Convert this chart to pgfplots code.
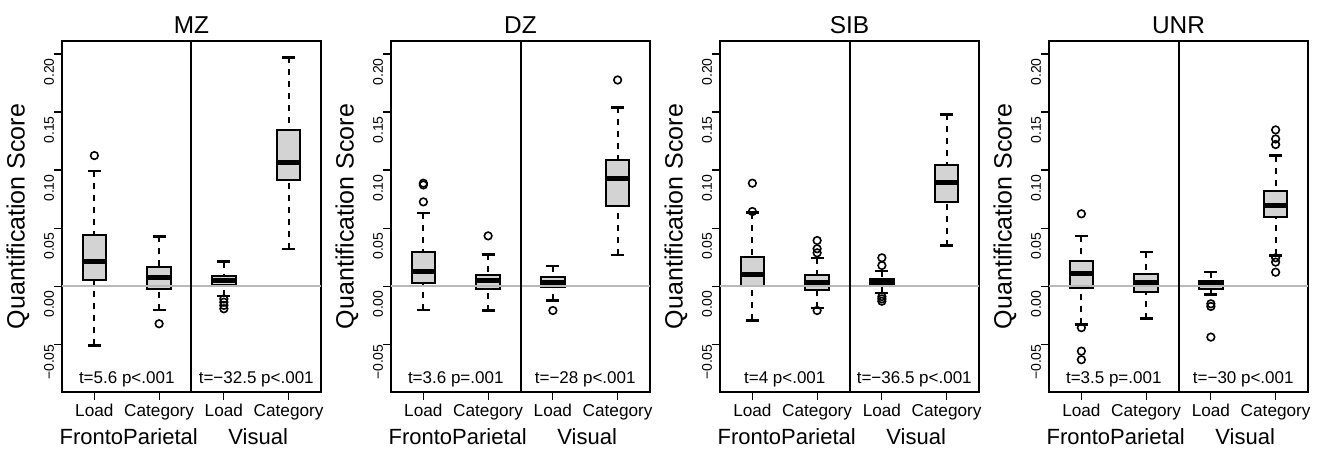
\documentclass[border=0pt]{standalone}
\usepackage{fontspec}
\setmainfont{Liberation Sans}
\usepackage{pgfplots}
\usepgfplotslibrary{statistics}
\pgfplotsset{compat=1.18}

\definecolor{boxgray}{RGB}{211,211,211}
\definecolor{zerogray}{RGB}{185,185,185}

\pgfplotsset{
  panel/.style={
    anchor=south west,
    scale only axis,
    width=129.5pt, height=175.5pt,
    xmin=0.5, xmax=4.5, ymin=-0.0912, ymax=0.2112,
    clip=false,
    axis line style={line width=1.3pt},
    xtick={1,2,3,4},
    xticklabels={Load,Category,Load,Category},
    ytick={-0.05,0,0.05,0.1,0.15,0.2},
    yticklabels={−0.05,0.00,0.05,0.10,0.15,0.20},
    xtick pos=left, ytick pos=left,
    tick align=outside,
    major tick length=3.8pt,
    tick style={line width=0.6pt, black},
    xticklabel style={font=\fontsize{8.6}{9}\selectfont, inner sep=0pt, anchor=north, yshift=-2pt},
    yticklabel style={font=\fontsize{7}{8}\selectfont, rotate=90, anchor=south, inner sep=0pt, xshift=-9pt},
    boxplot/draw direction=y,
    boxplot/box extend=0.36,
    boxplot/whisker extend=0.2,
    boxplot/every box/.style={draw=black, line width=1pt, fill=boxgray},
    boxplot/every median/.style={draw=black, line width=2.4pt},
    boxplot/draw/lower whisker/.code={
      \draw[black, line width=1pt, dash pattern=on 3pt off 3pt]
        (boxplot box cs:\pgfplotsboxplotvalue{lower whisker},0.5) --
        (boxplot box cs:\pgfplotsboxplotvalue{lower quartile},0.5);
      \draw[black, line width=1.2pt]
        (boxplot whisker cs:\pgfplotsboxplotvalue{lower whisker},0) --
        (boxplot whisker cs:\pgfplotsboxplotvalue{lower whisker},1);
    },
    boxplot/draw/upper whisker/.code={
      \draw[black, line width=1pt, dash pattern=on 3pt off 3pt]
        (boxplot box cs:\pgfplotsboxplotvalue{upper whisker},0.5) --
        (boxplot box cs:\pgfplotsboxplotvalue{upper quartile},0.5);
      \draw[black, line width=1.2pt]
        (boxplot whisker cs:\pgfplotsboxplotvalue{upper whisker},0) --
        (boxplot whisker cs:\pgfplotsboxplotvalue{upper whisker},1);
    },
  },
  bx/.style={black, mark=o, mark size=1.9pt, mark options={solid, line width=0.8pt}},
}
\tikzset{
  ttext/.style={font=\fontsize{8.5}{9}\selectfont, anchor=base},
  grp/.style={font=\fontsize{11}{12}\selectfont, anchor=base},
  ttl/.style={font=\fontsize{12.2}{13}\selectfont, anchor=base},
}

\newcommand{\panelextras}[3]{%
  \addplot[zerogray, line width=1pt] coordinates {(0.5,0) (4.5,0)};
  \addplot[black, line width=1pt] coordinates {(2.5,-0.0912) (2.5,0.2112)};
  \node[ttl] at (axis cs:2.5,0.2112) [yshift=3.9pt] {#1};
  \node[ttext] at (axis cs:1.5,-0.0837) {#2};
  \node[ttext] at (axis cs:3.5,-0.0837) {#3};
  \node[grp] at (axis cs:1.53,-0.0912) [yshift=-26.5pt] {FrontoParietal};
  \node[grp] at (axis cs:3.53,-0.0912) [yshift=-26.5pt] {Visual};
}

\begin{document}
\begin{tikzpicture}
\useasboundingbox (0,0) rectangle (658.5pt,224.5pt);

% MZ
\begin{axis}[panel, at={(31pt,28.5pt)}]
  \addplot[bx, boxplot prepared={draw position=1, lower whisker=-0.051, lower quartile=0.0055, median=0.0215, upper quartile=0.0442, upper whisker=0.099}]
    coordinates {(0,0.1125)};
  \addplot[bx, boxplot prepared={draw position=2, lower whisker=-0.0204, lower quartile=-0.0023, median=0.0077, upper quartile=0.0161, upper whisker=0.0428}]
    coordinates {(0,-0.0324)};
  \addplot[bx, boxplot prepared={draw position=3, lower whisker=-0.0086, lower quartile=0.0006, median=0.0049, upper quartile=0.0089, upper whisker=0.0212}]
    coordinates {(0,-0.011) (0,-0.0138) (0,-0.0166) (0,-0.0195)};
  \addplot[bx, boxplot prepared={draw position=4, lower whisker=0.0321, lower quartile=0.0912, median=0.1062, upper quartile=0.1346, upper whisker=0.197}]
    coordinates {};
  \panelextras{MZ}{t=5.6 p<.001}{t=−32.5 p<.001}
\end{axis}

% DZ
\begin{axis}[panel, at={(195.5pt,28.5pt)}]
  \addplot[bx, boxplot prepared={draw position=1, lower whisker=-0.0204, lower quartile=0.0026, median=0.0126, upper quartile=0.0293, upper whisker=0.0631}]
    coordinates {(0,0.0887) (0,0.0872) (0,0.0726)};
  \addplot[bx, boxplot prepared={draw position=2, lower whisker=-0.021, lower quartile=-0.0026, median=0.0049, upper quartile=0.010, upper whisker=0.0273}]
    coordinates {(0,0.0433)};
  \addplot[bx, boxplot prepared={draw position=3, lower whisker=-0.0123, lower quartile=-0.0009, median=0.0034, upper quartile=0.0077, upper whisker=0.0172}]
    coordinates {(0,-0.021)};
  \addplot[bx, boxplot prepared={draw position=4, lower whisker=0.027, lower quartile=0.0694, median=0.0924, upper quartile=0.109, upper whisker=0.154}]
    coordinates {(0,0.1776)};
  \panelextras{DZ}{t=3.6 p=.001}{t=−28 p<.001}
\end{axis}

% SIB
\begin{axis}[panel, at={(360pt,28.5pt)}]
  \addplot[bx, boxplot prepared={draw position=1, lower whisker=-0.0296, lower quartile=-0.0003, median=0.010, upper quartile=0.025, upper whisker=0.0634}]
    coordinates {(0,0.0887) (0,0.0643)};
  \addplot[bx, boxplot prepared={draw position=2, lower whisker=-0.019, lower quartile=-0.0031, median=0.0034, upper quartile=0.0092, upper whisker=0.0241}]
    coordinates {(0,0.0393) (0,0.0322) (0,0.0287) (0,-0.021)};
  \addplot[bx, boxplot prepared={draw position=3, lower whisker=-0.006, lower quartile=0.0, median=0.0032, upper quartile=0.0064, upper whisker=0.0129}]
    coordinates {(0,0.0244) (0,0.0178) (0,-0.009) (0,-0.011) (0,-0.013)};
  \addplot[bx, boxplot prepared={draw position=4, lower whisker=0.035, lower quartile=0.0729, median=0.089, upper quartile=0.104, upper whisker=0.148}]
    coordinates {};
  \panelextras{SIB}{t=4 p<.001}{t=−36.5 p<.001}
\end{axis}

% UNR
\begin{axis}[panel, at={(524.5pt,28.5pt)}]
  \addplot[bx, boxplot prepared={draw position=1, lower whisker=-0.033, lower quartile=-0.0014, median=0.0112, upper quartile=0.0215, upper whisker=0.043}]
    coordinates {(0,0.0623) (0,-0.0358) (0,-0.056) (0,-0.0634)};
  \addplot[bx, boxplot prepared={draw position=2, lower whisker=-0.028, lower quartile=-0.0052, median=0.0029, upper quartile=0.0101, upper whisker=0.0293}]
    coordinates {};
  \addplot[bx, boxplot prepared={draw position=3, lower whisker=-0.0072, lower quartile=-0.0023, median=0.0015, upper quartile=0.0043, upper whisker=0.012}]
    coordinates {(0,-0.0152) (0,-0.0175) (0,-0.0439)};
  \addplot[bx, boxplot prepared={draw position=4, lower whisker=0.0264, lower quartile=0.0594, median=0.0694, upper quartile=0.0818, upper whisker=0.1125}]
    coordinates {(0,0.1346) (0,0.1268) (0,0.122) (0,0.0244) (0,0.0207) (0,0.012)};
  \panelextras{UNR}{t=3.5 p=.001}{t=−30 p<.001}
\end{axis}

% y axis titles, one per panel
\foreach \k in {0,1,2,3} {
  \node[rotate=90, font=\fontsize{12.5}{13}\selectfont] at ({9pt+164.5pt*\k}, 116.25pt) {Quantification Score};
}
\end{tikzpicture}
\end{document}
